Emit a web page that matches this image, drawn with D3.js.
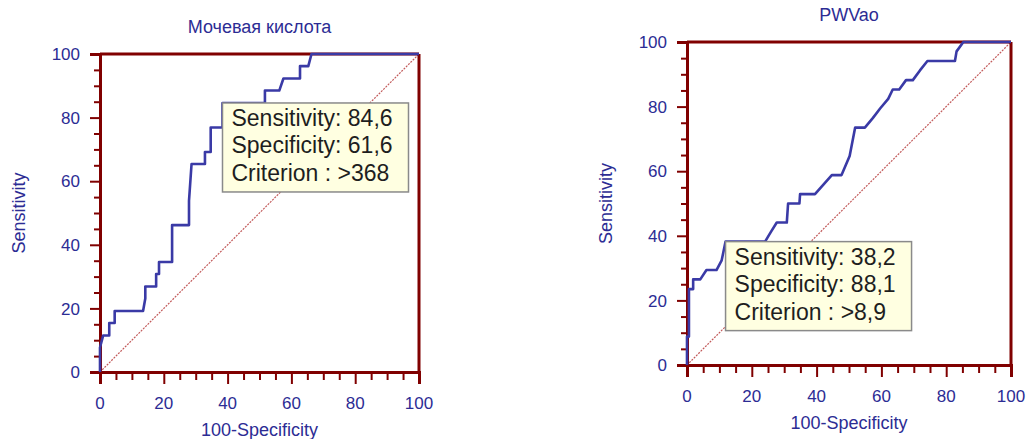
<!DOCTYPE html>
<html><head><meta charset="utf-8">
<script src="https://cdn.jsdelivr.net/npm/d3@7"></script>
<style>body{margin:0;background:#fff}svg{display:block}</style>
</head><body>
<script>
// ---- data ----
const titles = ["Мочевая кислота", "PWVao"];
const xAxisTitle = "100-Specificity";
const yAxisTitle = "Sensitivity";
const majorTicks = [0, 20, 40, 60, 80, 100];
const minorTicks = [5,10,15,25,30,35,45,50,55,65,70,75,85,90,95];

// Left ROC: 100-Specificity (x) and Sensitivity (y)
const uaFpr  = [0, 0, 1.0, 2.9, 2.9, 4.6, 4.6, 13.5, 14.2, 14.2, 17.6, 17.6, 18.5, 18.5, 22.6, 22.6, 27.9, 27.9, 28.7, 32.9, 32.9, 34.7, 34.7, 38.4, 38.4, 51.7, 51.7, 56.2, 57.5, 62.7, 62.7, 65.3, 66.3, 100];
const uaSens = [0, 7.7, 11.5, 11.5, 15.4, 15.4, 19.2, 19.2, 23.1, 26.9, 26.9, 30.8, 30.8, 34.6, 34.6, 46.2, 46.2, 53.8, 65.4, 65.4, 69.2, 69.2, 76.9, 76.9, 84.6, 84.6, 88.5, 88.5, 92.3, 92.3, 96.2, 96.2, 100, 100];

// Right ROC
const pwvFpr  = [0, 0, 0.6, 0.6, 1.9, 1.9, 4.1, 6.0, 9.1, 10.7, 11.9, 24.1, 25.9, 27.7, 30.8, 31.2, 34.7, 34.9, 39.5, 44.7, 47.7, 50.2, 51.9, 54.9, 57.4, 59.6, 62.1, 63.5, 65.5, 67.6, 69.7, 71.9, 74.2, 82.7, 83.2, 85.3, 100];
const pwvSens = [0, 8.8, 8.8, 23.5, 23.5, 26.5, 26.5, 29.4, 29.4, 32.4, 38.2, 38.2, 41.2, 44.1, 44.1, 50.0, 50.0, 52.9, 52.9, 58.8, 58.8, 64.7, 73.5, 73.5, 76.5, 79.4, 82.4, 85.3, 85.3, 88.2, 88.2, 91.2, 94.1, 94.1, 97.1, 100, 100];

// Optimal criterion boxes
const uaBox  = {sens: 84.6, spec: 61.6, crit: ">368"};
const pwvBox = {sens: 38.2, spec: 88.1, crit: ">8,9"};

// ---- drawing ----
const W = 1029, H = 439;
const svg = d3.select("body").append("svg").attr("width", W).attr("height", H)
  .style("font-family", "'Liberation Sans', Arial, sans-serif");

const AXIS = "#800000", LABEL = "#2c2c94", CURVE = "#3a3aa6";

function fmt(v){ return String(v).replace(".", ","); }

function drawROC(rect, title, fpr, sens, box) {
  const x = d3.scaleLinear().domain([0, 100]).range([rect.l, rect.r]);
  const y = d3.scaleLinear().domain([0, 100]).range([rect.b, rect.t]);
  const g = svg.append("g");

  // diagonal reference
  g.append("line")
    .attr("x1", x(0)).attr("y1", y(0)).attr("x2", x(100)).attr("y2", y(100))
    .attr("stroke", "#c25a5a").attr("stroke-width", 1.2)
    .attr("stroke-dasharray", "2,1.2");

  // frame (top / right)
  g.append("line").attr("x1", x(0)).attr("x2", x(100)).attr("y1", y(100)).attr("y2", y(100))
    .attr("stroke", AXIS).attr("stroke-width", 3);
  g.append("line").attr("x1", x(100)).attr("x2", x(100)).attr("y1", y(0)).attr("y2", y(100))
    .attr("stroke", AXIS).attr("stroke-width", 3);

  // axes
  const xAxis = g.append("g").attr("transform", `translate(0,${rect.b})`);
  xAxis.call(d3.axisBottom(x).tickValues(minorTicks).tickSize(8).tickFormat(""));
  xAxis.append("g").call(d3.axisBottom(x).tickValues(majorTicks).tickSize(12).tickFormat(""));
  xAxis.selectAll("path.domain").attr("stroke", AXIS).attr("stroke-width", 3);
  xAxis.selectAll(".tick line").attr("stroke", AXIS).attr("stroke-width", 2);

  const yAxis = g.append("g").attr("transform", `translate(${rect.l},0)`);
  yAxis.call(d3.axisLeft(y).tickValues(minorTicks).tickSize(6).tickFormat(""));
  yAxis.append("g").call(d3.axisLeft(y).tickValues(majorTicks).tickSize(10).tickFormat(""));
  yAxis.selectAll("path.domain").attr("stroke", AXIS).attr("stroke-width", 3);
  yAxis.selectAll(".tick line").attr("stroke", AXIS).attr("stroke-width", 2);

  // ROC curve (on top of frame)
  const pts = fpr.map((v, i) => [v, sens[i]]);
  g.append("path")
    .attr("d", d3.line().x(d => x(d[0])).y(d => y(d[1]))(pts))
    .attr("fill", "none").attr("stroke", CURVE).attr("stroke-width", 2.6)
    .attr("stroke-linejoin", "round");

  // tick labels
  g.selectAll(".xl").data(majorTicks).enter().append("text")
    .attr("x", d => x(d)).attr("y", rect.b + 37)
    .attr("text-anchor", "middle").attr("font-size", 17).attr("fill", LABEL).text(d => d);
  g.selectAll(".yl").data(majorTicks).enter().append("text")
    .attr("x", rect.l - 20).attr("y", d => y(d)).attr("dy", "0.36em")
    .attr("text-anchor", "end").attr("font-size", 17).attr("fill", LABEL).text(d => d);

  // titles
  g.append("text").attr("x", (rect.l + rect.r) / 2).attr("y", rect.t - 21)
    .attr("text-anchor", "middle").attr("font-size", 18).attr("fill", LABEL).text(title);
  g.append("text").attr("x", (rect.l + rect.r) / 2).attr("y", rect.b + 64)
    .attr("text-anchor", "middle").attr("font-size", 18).attr("fill", LABEL).text(xAxisTitle);
  g.append("text")
    .attr("transform", `translate(${rect.l - 75},${(rect.t + rect.b) / 2}) rotate(-90)`)
    .attr("text-anchor", "middle").attr("font-size", 18).attr("fill", LABEL).text(yAxisTitle);

  // criterion box anchored at optimal point
  const bx = x(100 - box.spec), by = y(box.sens);
  const lines = [`Sensitivity: ${fmt(box.sens)}`, `Specificity: ${fmt(box.spec)}`, `Criterion : ${box.crit}`];
  g.append("rect").attr("x", bx).attr("y", by).attr("width", 186).attr("height", 89)
    .attr("fill", "#ffffe1").attr("stroke", "#8a8a8a").attr("stroke-width", 1.5);
  lines.forEach((t, i) => {
    g.append("text").attr("x", bx + 9).attr("y", by + 23 + i * 27.5)
      .attr("font-size", 23).attr("fill", "#1e1e1e").text(t);
  });
}

drawROC({l: 100, r: 419, t: 54, b: 372}, titles[0], uaFpr, uaSens, uaBox);
drawROC({l: 687, r: 1011, t: 42, b: 365}, titles[1], pwvFpr, pwvSens, pwvBox);
</script>
</body></html>
